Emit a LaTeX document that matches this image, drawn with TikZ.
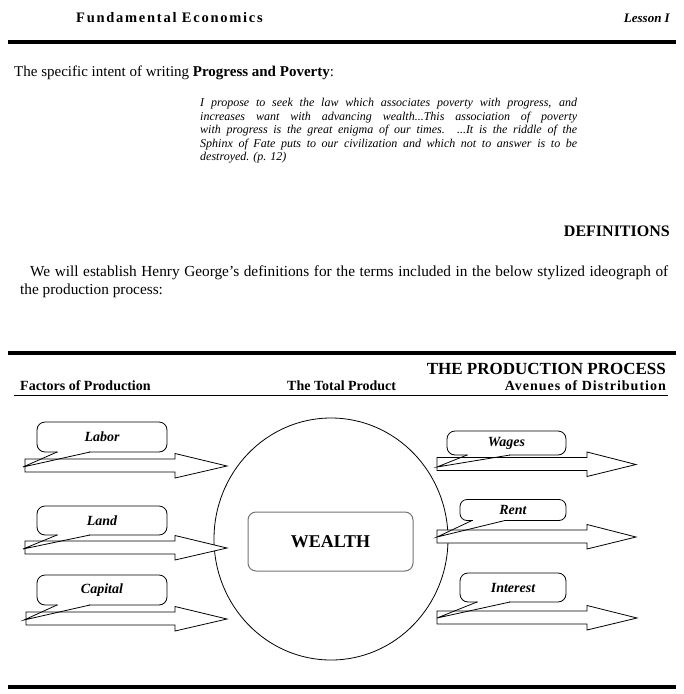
\documentclass[tikz,border=0pt]{standalone}
\usepackage{fontspec}
\setmainfont{Liberation Serif}
\usetikzlibrary{shapes.geometric}
\newcommand{\prodarrow}[4]{%
  \draw[blockarrow] (#1,{#2-6.5}) -- (#3,{#2-6.5}) -- (#3,{#2-12}) -- (#4,{#2+0.5})
    -- (#3,{#2+12.5}) -- (#3,{#2+6.5}) -- (#1,{#2+6.5}) -- cycle;}
\newcommand{\prodtail}[5]{%
  \fill[white] ({#1+0.6},{#3-1.2}) rectangle ({#2-0.6},{#3+1.2});
  \draw[tailline] (#1,#3) -- (#4,#5) -- (#2,#3);}
\begin{document}
\begin{tikzpicture}[x=1pt,y=-1pt,
  rulebar/.style={line width=3.5pt},
  txt/.style={inner sep=0pt, font=\fontsize{#1}{#1}\selectfont},
  txt/.default=13,
  quoteline/.style={anchor=west, inner sep=0pt, font=\itshape\fontsize{12}{12}\selectfont},
  bubble/.style={draw, line width=0.8pt, rounded corners=8pt, fill=white, inner sep=0pt,
    font=\bfseries\itshape\fontsize{14}{14}\selectfont},
  blockarrow/.style={draw, fill=white, line width=0.8pt, line join=miter},
  tailline/.style={line width=0.8pt, line join=miter},
  colhead/.style={inner sep=0pt, font=\bfseries\fontsize{14}{14}\selectfont}]
\useasboundingbox (0,0) rectangle (684,694);

% header
\node[anchor=west, inner sep=0pt, font=\bfseries\fontsize{14.5}{14.5}\selectfont\addfontfeatures{LetterSpace=12}] (title) at (76,18) {Fundamental Economics};
\node[anchor=east, inner sep=0pt, font=\bfseries\itshape\fontsize{13}{13}\selectfont] (lesson) at (670,18) {Lesson I};
\draw[rulebar] (8,42) -- (676,42);

\node[anchor=west, txt=15] (intent) at (14,73) {The specific intent of writing \textbf{Progress and Poverty}:};

\node[quoteline] (q1) at (200,104) {\makebox[377pt][s]{I propose to seek the law which associates poverty with progress, and}};
\node[quoteline] (q2) at (200,117.5) {\makebox[377pt][s]{increases want with advancing wealth...This association of poverty}};
\node[quoteline] (q3) at (200,131) {\makebox[377pt][s]{with progress is the great enigma of our times. ...It is the riddle of the}};
\node[quoteline] (q4) at (200,144.5) {\makebox[377pt][s]{Sphinx of Fate puts to our civilization and which not to answer is to be}};
\node[quoteline] (q5) at (200,158) {destroyed. (p. 12)};

\node[anchor=east, inner sep=0pt, font=\bfseries\fontsize{16}{16}\selectfont] (defs) at (670,231) {DEFINITIONS};

\node[anchor=west, txt=15.3] (est1) at (30,273) {\makebox[638pt][s]{We will establish Henry George’s definitions for the terms included in the below stylized ideograph of}};
\node[anchor=west, txt=15.3] (est2) at (20,291) {the production process:};

\draw[rulebar] (8,353) -- (676,353);
\node[anchor=east, inner sep=0pt, font=\bfseries\fontsize{17}{17}\selectfont] (proc) at (666,369) {THE PRODUCTION PROCESS};
\node[anchor=west, colhead] (factors) at (20,386) {Factors of Production};
\node[anchor=west, colhead] (total) at (287,386) {The Total Product};
\node[anchor=east, colhead, font=\bfseries\fontsize{14}{14}\selectfont\addfontfeatures{LetterSpace=7}] (avenues) at (666,386) {Avenues of Distribution};
\draw[line width=1pt] (14,395) -- (668,395);

% total product circle
\node[draw, ellipse, line width=0.8pt, minimum width=234pt, minimum height=242pt, inner sep=0pt] (product) at (331,539) {};
\node[draw=black!55, line width=1pt, rounded corners=8pt, minimum width=165pt, minimum height=59pt, inner sep=0pt,
  font=\bfseries\fontsize{18}{18}\selectfont] (wealth) at (330.5,541.5) {WEALTH};

% factors
\prodarrow{25}{465.5}{175}{227}
\node[bubble, minimum width=130pt, minimum height=30pt] (labor) at (102,437) {Labor};
\prodtail{57}{90}{452}{23}{467}

\prodarrow{25}{547.5}{175}{227}
\node[bubble, minimum width=130pt, minimum height=29pt] (land) at (102,520.5) {Land};
\prodtail{57}{90}{535}{23}{549}

\prodarrow{26}{618.5}{175}{227}
\node[bubble, minimum width=130pt, minimum height=30pt] (capital) at (102,590) {Capital};
\prodtail{57}{90}{605}{24}{620}

% distribution
\prodarrow{437}{464}{587}{636}
\node[bubble, minimum width=119pt, minimum height=24pt] (wages) at (506.5,443) {Wages};
\prodtail{467}{510}{455}{437}{467}

\prodarrow{437}{536.5}{587}{636}
\node[bubble, minimum width=106pt, minimum height=21pt, rounded corners=7pt] (rent) at (513,510) {Rent};
\prodtail{472}{505}{520.5}{437}{537}

\prodarrow{437}{617.5}{587}{637}
\node[bubble, minimum width=106pt, minimum height=29pt] (interest) at (513,587.5) {Interest};
\prodtail{477}{510}{602}{437}{618}

\draw[rulebar] (8,687) -- (676,687);
\end{tikzpicture}
\end{document}
